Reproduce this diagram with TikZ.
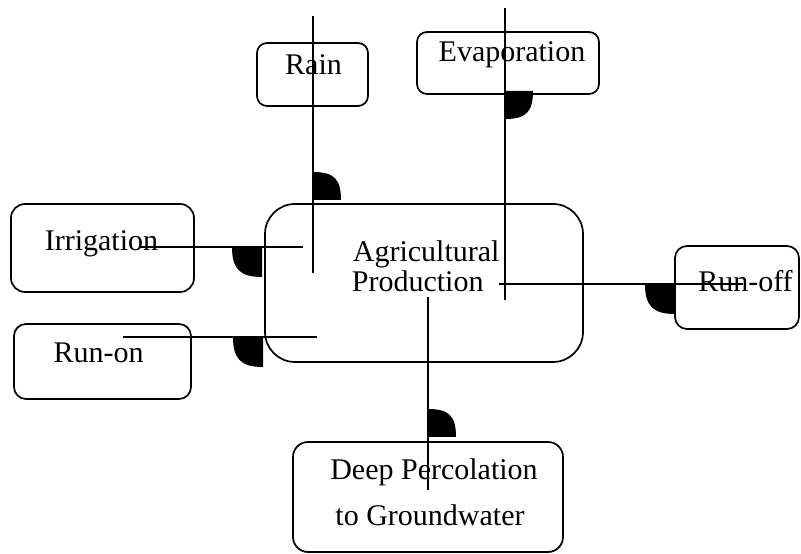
\documentclass[tikz,border=0pt]{standalone}
\usepackage{fontspec}
\setmainfont{Liberation Serif}
\usetikzlibrary{positioning}

\begin{document}
\begin{tikzpicture}[x=1pt, y=1pt, line width=1.7pt,
    box/.style={draw, inner sep=0pt, rounded corners=#1},
    box/.default=10pt,
    lbl/.style={anchor=base, inner sep=0pt, font=\fontsize{30}{30}\selectfont},
    flow/.style={line width=1.5pt}]
  \useasboundingbox (0,0) rectangle (801,554);

  \node[box, minimum width=111, minimum height=63] (rain) at (312.5,479.5) {};
  \node[box, minimum width=182, minimum height=62] (evap) at (508,491) {};
  \node[box=30pt, minimum width=318, minimum height=158] (agri) at (424,271) {};
  \node[box=14pt, minimum width=183, minimum height=88] (irr) at (102.5,306) {};
  \node[box=12pt, minimum width=177, minimum height=75] (runon) at (102.5,192.5) {};
  \node[box=12pt, minimum width=124, minimum height=83] (runoff) at (737,266.5) {};
  \node[box=15pt, minimum width=270, minimum height=110] (deep) at (428,57) {};

  \node[lbl] (rainlbl) at (313.5,479) {Rain};
  \node[lbl] (evaplbl) at (512,492) {Evaporation};
  \node[lbl, anchor=base west] (agrilbl) at (352,292) {Agricultural};
  \node[lbl, anchor=base west] (prodlbl) at (351,262) {Production};
  \node[lbl] (irrlbl) at (101.5,303) {Irrigation};
  \node[lbl] (runonlbl) at (98.5,191) {Run-on};
  \node[lbl] (runofflbl) at (745.5,262) {Run-off};
  \node[lbl] (deeplbl) at (434,74) {Deep Percolation};
  \node[lbl] (gwlbl) at (430,28) {to Groundwater};

  \coordinate (rainin) at (313,538);
  \coordinate (rainout) at (313,281);
  \coordinate (evapin) at (505,254);
  \coordinate (evapout) at (505,546);
  \coordinate (irrin) at (140,307);
  \coordinate (irrout) at (303,307);
  \coordinate (runonin) at (123,217);
  \coordinate (runonout) at (317,217);
  \coordinate (runoffin) at (499,270);
  \coordinate (runoffout) at (743,270);
  \coordinate (deepin) at (428,257);
  \coordinate (deepout) at (428,64);

  \draw[flow] (rainin) -- (rainout);
  \draw[flow] (evapin) -- (evapout);
  \draw[flow] (irrin) -- (irrout);
  \draw[flow] (runonin) -- (runonout);
  \draw[flow] (runoffin) -- (runoffout);
  \draw[flow] (deepin) -- (deepout);

  \fill (313,354) -- ++(28,0) .. controls +(0,21) and +(21,0) .. ++(-28,28) -- cycle;
  \fill (505,463) -- ++(0,-28) .. controls +(21,0) and +(0,-21) .. ++(28,28) -- cycle;
  \fill (262,307) -- ++(-30,0) .. controls +(0,-22) and +(-22,0) .. ++(30,-30) -- cycle;
  \fill (263,217) -- ++(-30,0) .. controls +(0,-22) and +(-22,0) .. ++(30,-30) -- cycle;
  \fill (675,270) -- ++(-30,0) .. controls +(0,-22) and +(-22,0) .. ++(30,-30) -- cycle;
  \fill (428,117) -- ++(28,0) .. controls +(0,21) and +(21,0) .. ++(-28,28) -- cycle;
\end{tikzpicture}
\end{document}
